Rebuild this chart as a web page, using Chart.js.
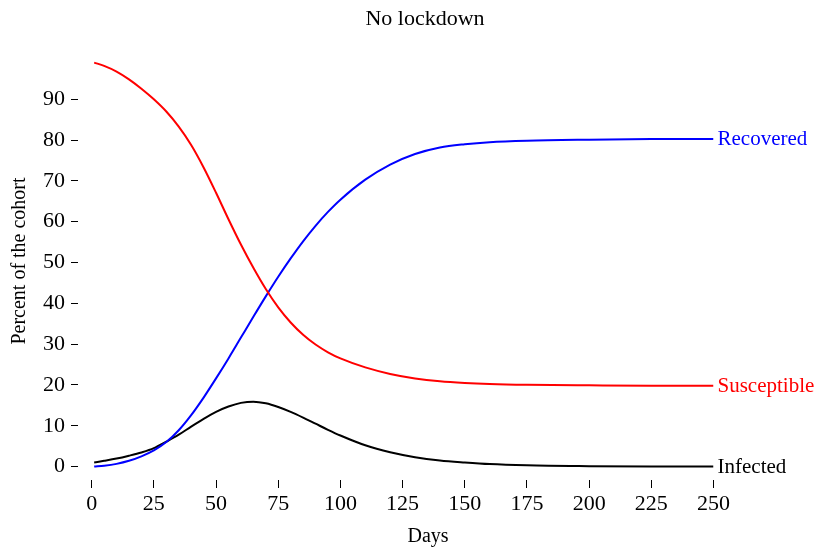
<!DOCTYPE html>
<html>
<head>
<meta charset="utf-8">
<script src="https://cdn.jsdelivr.net/npm/chart.js@4/dist/chart.umd.min.js"></script>
<style>
  html, body { margin: 0; padding: 0; background: #fff; }
  #wrap { width: 817px; height: 550px; }
</style>
</head>
<body>
<div id="wrap"><canvas id="sir-chart" width="817" height="550"></canvas></div>
<script>
// values (percent of cohort by day)
const days = [1, 5, 10, 15, 20, 25, 30, 35, 40, 45, 50, 55, 60, 65, 70, 75, 80, 85, 90, 95, 100, 110, 120, 130, 140, 150, 160, 175, 200, 225, 250];
const susceptible = [99.0, 98.2, 96.8, 94.9, 92.6, 90.0, 87.0, 83.3, 78.8, 73.3, 67.1, 60.6, 54.4, 48.7, 43.5, 39.0, 35.3, 32.3, 29.9, 28.0, 26.5, 24.3, 22.7, 21.6, 20.9, 20.5, 20.25, 20.05, 19.9, 19.8, 19.8];
const infected = [1.0, 1.4, 1.95, 2.65, 3.45, 4.5, 6.1, 7.8, 9.8, 11.7, 13.4, 14.7, 15.6, 15.9, 15.5, 14.6, 13.4, 12.0, 10.5, 9.0, 7.6, 5.2, 3.5, 2.3, 1.5, 1.0, 0.6, 0.3, 0.1, 0.0, 0.0];
const recovered = [0.0, 0.2, 0.65, 1.4, 2.5, 3.95, 6.0, 8.9, 12.6, 16.9, 21.6, 26.5, 31.6, 36.7, 41.7, 46.5, 51.0, 55.2, 59.0, 62.4, 65.4, 70.3, 74.0, 76.6, 78.2, 79.0, 79.5, 79.85, 80.1, 80.25, 80.3];

const xTicks = [0, 25, 50, 75, 100, 125, 150, 175, 200, 225, 250];
const yTicks = [0, 10, 20, 30, 40, 50, 60, 70, 80, 90];

const FONT = "'Liberation Serif', 'Times New Roman', serif";

function toPoints(values) {
  return days.map((d, i) => ({ x: d, y: values[i] }));
}

// titles and end-of-line labels
const labelsPlugin = {
  id: "labels",
  afterDraw(chart) {
    const c = chart.ctx;
    c.save();
    c.fillStyle = "#000";
    c.textAlign = "center";
    c.textBaseline = "alphabetic";
    c.font = "22px " + FONT;
    c.fillText("No lockdown", 425, 25);
    c.font = "20px " + FONT;
    c.fillText("Days", 428, 542);

    c.save();
    c.translate(25, 261);
    c.rotate(-Math.PI / 2);
    c.font = "20px " + FONT;
    c.fillText("Percent of the cohort", 0, 0);
    c.restore();

    c.textAlign = "left";
    c.textBaseline = "middle";
    c.font = "21px " + FONT;
    chart.data.datasets.forEach((ds, i) => {
      const meta = chart.getDatasetMeta(i);
      const last = meta.data[meta.data.length - 1];
      c.fillStyle = ds.borderColor;
      c.fillText(ds.label, last.x + 4, last.y + 1);
    });
    c.restore();
  },
};

new Chart(document.getElementById("sir-chart"), {
  type: "line",
  data: {
    datasets: [
      { label: "Susceptible", data: toPoints(susceptible), borderColor: "#ff0000" },
      { label: "Recovered", data: toPoints(recovered), borderColor: "#0000ff" },
      { label: "Infected", data: toPoints(infected), borderColor: "#000000" },
    ],
  },
  options: {
    responsive: false,
    animation: false,
    events: [],
    layout: { padding: { top: 58.5, right: 103.5, left: 0, bottom: 0 } },
    elements: {
      point: { radius: 0 },
      line: { borderWidth: 2, cubicInterpolationMode: "monotone", fill: false },
    },
    plugins: {
      legend: { display: false },
      title: { display: false },
      tooltip: { enabled: false },
    },
    scales: {
      x: {
        type: "linear",
        min: -5.5,
        max: 250,
        afterBuildTicks: (scale) => {
          scale.ticks = xTicks.map((v) => ({ value: v }));
        },
        afterFit: (scale) => {
          scale.height = 70;
        },
        border: { display: false },
        grid: {
          drawOnChartArea: false,
          drawTicks: true,
          tickLength: 8,
          color: "#000",
          lineWidth: 1,
        },
        ticks: {
          color: "#000",
          font: { family: FONT, size: 22 },
          padding: 3,
          maxRotation: 0,
        },
      },
      y: {
        type: "linear",
        min: -3.3,
        max: 100,
        afterBuildTicks: (scale) => {
          scale.ticks = yTicks.map((v) => ({ value: v }));
        },
        afterFit: (scale) => {
          scale.width = 78;
        },
        border: { display: false },
        grid: {
          drawOnChartArea: false,
          drawTicks: true,
          tickLength: 7,
          color: "#000",
          lineWidth: 1,
        },
        ticks: {
          color: "#000",
          font: { family: FONT, size: 22 },
          padding: 6,
        },
      },
    },
  },
  plugins: [labelsPlugin],
});
</script>
</body>
</html>
